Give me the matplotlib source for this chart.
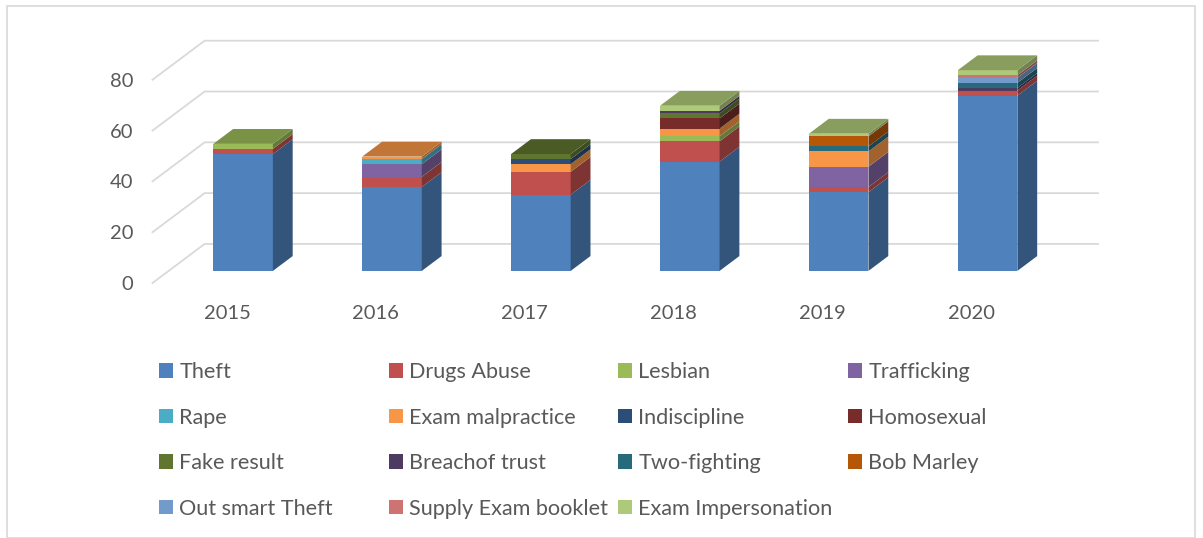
import matplotlib
matplotlib.use("Agg")
import matplotlib.pyplot as plt
from matplotlib.patches import Polygon, Rectangle
from matplotlib.colors import to_rgb
import numpy as np

# data
years = ['2015', '2016', '2017', '2018', '2019', '2020']
series = ['Theft', 'Drugs Abuse', 'Lesbian', 'Trafficking', 'Rape',
          'Exam malpractice', 'Indiscipline', 'Homosexual', 'Fake result',
          'Breachof trust', 'Two-fighting', 'Bob Marley', 'Out smart Theft',
          'Supply Exam booklet', 'Exam Impersonation']
colors = ['#4F81BD', '#C0504D', '#9BBB59', '#8064A2', '#4BACC6',
          '#F79646', '#2C4D75', '#772C2A', '#5F7530', '#4D3B62',
          '#276A7C', '#B65708', '#729ACA', '#CD7371', '#AFC97A']

theft = [46, 33, 30, 43, 31, 69]
drugs_abuse = [2, 4, 9, 8, 2, 2]
lesbian = [2, 0, 0, 2, 0, 0]
trafficking = [0, 5, 0, 0, 8, 0]
rape = [0, 2, 0, 0, 0, 0]
exam_malpractice = [0, 1, 3, 3, 6, 0]
indiscipline = [0, 0, 2, 0, 0, 0]
homosexual = [0, 0, 0, 4, 0, 0]
fake_result = [0, 0, 2, 2, 0, 0]
breach_of_trust = [0, 0, 0, 1, 0, 1]
two_fighting = [0, 0, 0, 0, 2, 2]
bob_marley = [0, 0, 0, 0, 4, 0]
out_smart_theft = [0, 0, 0, 0, 0, 2]
supply_booklet = [0, 0, 0, 0, 0, 1]
exam_impersonation = [0, 0, 0, 2, 1, 2]

values = np.array([theft, drugs_abuse, lesbian, trafficking, rape,
                   exam_malpractice, indiscipline, homosexual, fake_result,
                   breach_of_trust, two_fighting, bob_marley, out_smart_theft,
                   supply_booklet, exam_impersonation], dtype=float)

# pseudo-3d geometry (category / value units)
DX, DY = 0.35, 15.37      # offset from front to back wall
d0, dd = 0.31, 0.38       # bar front depth and bar depth
W = 0.4
TXT = '#595959'
GRID = '#D9D9D9'


def shade(c, f):
    return tuple(np.clip(np.array(to_rgb(c)) * f, 0, 1))


plt.rcParams['font.family'] = ['Lato', 'DejaVu Sans']
fig = plt.figure(figsize=(12.03, 5.38), dpi=100)
W_PX, H_PX = 1203, 538
ax = fig.add_axes([152.5 / W_PX, (H_PX - 283) / H_PX,
                   (1098 - 152.5) / W_PX, 242.3 / H_PX])
ax.set_xlim(-0.5, 5.5 + DX)
ax.set_ylim(0, 80 + DY)
ax.patch.set_visible(False)
for s in ax.spines.values():
    s.set_visible(False)

# walls / gridlines
for v in range(0, 81, 20):
    ax.plot([-0.5, -0.5 + DX, 5.5 + DX], [v, v + DY, v + DY],
            color=GRID, lw=1.3, zorder=1, clip_on=False)

ax.set_yticks(range(0, 81, 20))
ax.set_xticks(range(len(years)))
ax.set_xticklabels(years)
ax.tick_params(axis='y', length=0, pad=14, labelsize=14.5, labelcolor=TXT)
ax.tick_params(axis='x', length=0, pad=16, labelsize=14.5, labelcolor=TXT)

# bars
for i in range(len(years)):
    xl = i - W / 2 + d0 * DX
    xr = xl + W
    bottom = 0.0
    tops = values[:, i]
    last = max(k for k in range(len(series)) if tops[k] > 0)
    for k in range(len(series)):
        h = tops[k]
        if h <= 0:
            continue
        b = bottom + d0 * DY
        t = b + h
        ax.add_patch(Rectangle((xl, b), W, h, facecolor=colors[k],
                               edgecolor='none', zorder=3))
        ax.add_patch(Polygon([(xr, b), (xr + dd * DX, b + dd * DY),
                              (xr + dd * DX, t + dd * DY), (xr, t)],
                             closed=True, facecolor=shade(colors[k], 0.65),
                             edgecolor='none', zorder=3))
        if k == last:
            ax.add_patch(Polygon([(xl, t), (xr, t),
                                  (xr + dd * DX, t + dd * DY),
                                  (xl + dd * DX, t + dd * DY)],
                                 closed=True,
                                 facecolor=shade(colors[k], 0.78),
                                 edgecolor='none', zorder=3))
        bottom += h

# legend: four columns, filled row by row
handles = [Rectangle((0, 0), 1, 1, facecolor=c, edgecolor='none') for c in colors]
col_x = [159, 389, 618, 848]
for c in range(4):
    idx = list(range(c, len(series), 4))
    leg = fig.legend([handles[j] for j in idx], [series[j] for j in idx],
                     loc='upper left',
                     bbox_to_anchor=(col_x[c] / W_PX, 1 - 362 / H_PX),
                     frameon=False, fontsize=15.6, handlelength=0.64,
                     handleheight=0.64, handletextpad=0.3, labelspacing=1.18,
                     borderpad=0, borderaxespad=0)
    for txt in leg.get_texts():
        txt.set_color(TXT)

# outer chart border
fig.patches.append(Rectangle((7 / W_PX, 0), (1195 - 7) / W_PX, 1 - 6 / H_PX,
                             transform=fig.transFigure, fill=False,
                             edgecolor=GRID, lw=1.2))

fig.savefig('out.png', dpi=100)
